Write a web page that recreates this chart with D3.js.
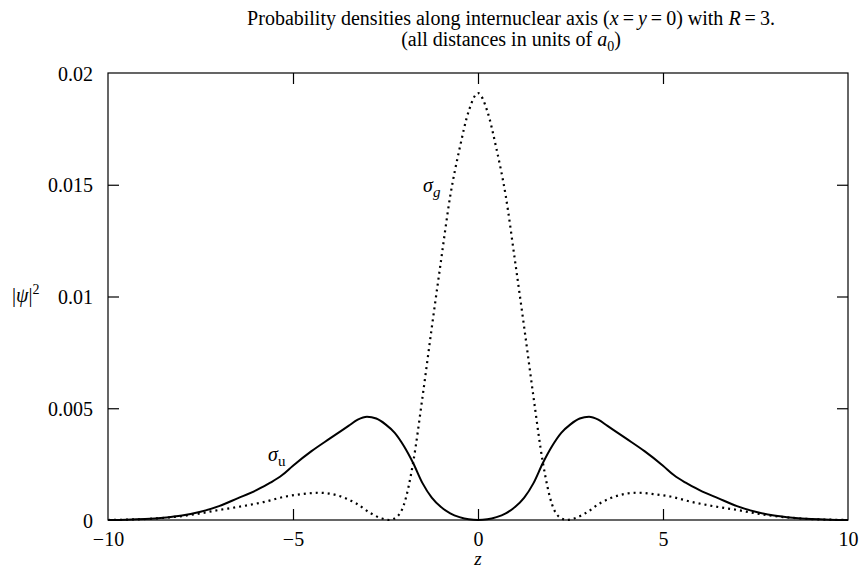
<!DOCTYPE html>
<html>
<head>
<meta charset="utf-8">
<script src="https://cdn.jsdelivr.net/npm/d3@7"></script>
<style>
  body { margin: 0; background: #fff; }
  svg { display: block; }
  svg text { font-family: "Liberation Serif", Tinos, "Times New Roman", Times, "DejaVu Serif", serif !important; fill: #000; }
</style>
</head>
<body>
<svg id="chart" width="861" height="569"></svg>
<script>
// ---- data (curves are symmetric about z = 0) ----
const zHalf      = [0, 0.25, 0.5, 0.75, 1.0, 1.25, 1.5, 1.75, 2.0, 2.25, 2.5, 2.75, 3.0, 3.25, 3.5, 4.0, 4.5, 5.0, 5.3, 5.6, 6.0, 6.5, 7.0, 7.5, 8.0, 8.5, 9.0, 9.5, 10];
const sigmaUHalf = [0, 0.00003, 0.00013, 0.0003, 0.00058, 0.001, 0.00165, 0.00254, 0.0033, 0.0039, 0.00428, 0.00454, 0.00462, 0.00449, 0.00421, 0.00365, 0.00308, 0.00243, 0.002, 0.00168, 0.00133, 0.00097, 0.00062, 0.00037, 0.0002, 0.0001, 0.00004, 0.00001, 0];

const zGHalf     = [0, 0.25, 0.5, 0.75, 1.0, 1.25, 1.5, 1.75, 2.0, 2.2, 2.4, 2.6, 2.9, 3.3, 3.8, 4.3, 4.8, 5.2, 5.8, 6.5, 7.0, 7.6, 8.2, 8.8, 9.4, 10];
const sigmaGHalf = [0.0191, 0.0183, 0.0166, 0.0145, 0.0116, 0.0086, 0.0055, 0.0026, 0.0007, 0.00013, 0, 0.00007, 0.0003, 0.00075, 0.0011, 0.00122, 0.00115, 0.00105, 0.0008, 0.00058, 0.00045, 0.00027, 0.00014, 0.00006, 0.00002, 0];

const xTicks = [-10, -5, 0, 5, 10];
const yTicks = [0, 0.005, 0.01, 0.015, 0.02];

// build full symmetric series
function mirror(zs, vs) {
  const pts = [];
  for (let i = zs.length - 1; i > 0; i--) pts.push([-zs[i], vs[i]]);
  for (let i = 0; i < zs.length; i++) pts.push([zs[i], vs[i]]);
  return pts;
}
const sigmaU = mirror(zHalf, sigmaUHalf);
const sigmaG = mirror(zGHalf, sigmaGHalf);

// ---- layout ----
const FONT = '"Liberation Serif", Tinos, "Times New Roman", Times, serif';
const svg = d3.select("#chart");
const L = 108, R = 848, T = 73, B = 520;
const x = d3.scaleLinear().domain([-10, 10]).range([L, R]);
const y = d3.scaleLinear().domain([0, 0.02]).range([B, T]);
const fs = 20;
const tickLen = 11;
const fmtX = d => d < 0 ? "\u2212" + Math.abs(d) : String(d);
const fmtY = d => d === 0 ? "0" : String(+d.toFixed(3));

// frame
svg.append("rect").attr("x", L).attr("y", T).attr("width", R - L).attr("height", B - T)
  .attr("fill", "none").attr("stroke", "#000").attr("stroke-width", 1.2);

// axes with inward ticks
const axB = svg.append("g").attr("transform", `translate(0,${B})`)
  .call(d3.axisBottom(x).tickValues(xTicks).tickSizeInner(-tickLen).tickSizeOuter(0).tickPadding(12).tickFormat(fmtX));
const axT = svg.append("g").attr("transform", `translate(0,${T})`)
  .call(d3.axisTop(x).tickValues(xTicks).tickSizeInner(-tickLen).tickSizeOuter(0).tickFormat(""));
const axL = svg.append("g").attr("transform", `translate(${L},0)`)
  .call(d3.axisLeft(y).tickValues(yTicks).tickSizeInner(-tickLen).tickSizeOuter(0).tickPadding(15).tickFormat(fmtY));
const axR = svg.append("g").attr("transform", `translate(${R},0)`)
  .call(d3.axisRight(y).tickValues(yTicks).tickSizeInner(-tickLen).tickSizeOuter(0).tickFormat(""));
[axB, axT, axL, axR].forEach(g => {
  g.attr("font-family", FONT).attr("font-size", fs);
  g.select(".domain").remove();
  g.selectAll("line").attr("stroke", "#000").attr("stroke-width", 1.2);
  g.selectAll("text").style("font-size", fs + "px").attr("fill", "#000");
});
// hide tick marks at frame edges (frame draws them)
axB.selectAll(".tick").filter(d => d === -10 || d === 10).select("line").remove();
axT.selectAll(".tick").filter(d => d === -10 || d === 10).select("line").remove();
axL.selectAll(".tick").filter(d => d === 0 || d === 0.02).select("line").remove();
axR.selectAll(".tick").filter(d => d === 0 || d === 0.02).select("line").remove();
axL.selectAll("text").attr("dy", "0.35em");

// curves
const line = d3.line().x(d => x(d[0])).y(d => y(d[1])).curve(d3.curveMonotoneX);
svg.append("path").datum(sigmaU).attr("d", line)
  .attr("fill", "none").attr("stroke", "#000").attr("stroke-width", 2);
svg.append("path").datum(sigmaG).attr("d", line)
  .attr("fill", "none").attr("stroke", "#000").attr("stroke-width", 2.2)
  .attr("stroke-dasharray", "2 4");

// curve labels
const lu = svg.append("text").attr("x", 268).attr("y", 461).style("font-size", fs + "px");
lu.append("tspan").attr("font-style", "italic").text("\u03c3");
lu.append("tspan").attr("dy", 5).style("font-size", "15px").text("u");
const lg = svg.append("text").attr("x", 423).attr("y", 192).style("font-size", fs + "px");
lg.append("tspan").attr("font-style", "italic").text("\u03c3");
lg.append("tspan").attr("dy", 5).attr("font-style", "italic").style("font-size", "15px").text("g");

// axis titles
svg.append("text").attr("x", x(0)).attr("y", 565).attr("text-anchor", "middle")
  .attr("font-style", "italic").style("font-size", "19px").text("z");
const yl = svg.append("text").attr("x", 12).attr("y", 302).style("font-size", fs + "px");
yl.append("tspan").text("|");
yl.append("tspan").attr("font-style", "italic").text("\u03c8");
yl.append("tspan").text("|");
yl.append("tspan").attr("dy", -8).style("font-size", "14px").text("2");

// title
const t1 = svg.append("text").attr("x", 511).attr("y", 25).attr("text-anchor", "middle").style("font-size", fs + "px");
t1.append("tspan").text("Probability densities along internuclear axis (");
t1.append("tspan").attr("font-style", "italic").text("x");
t1.append("tspan").text("\u2009=\u2009");
t1.append("tspan").attr("font-style", "italic").text("y");
t1.append("tspan").text("\u2009=\u20090) with ");
t1.append("tspan").attr("font-style", "italic").text("R");
t1.append("tspan").text("\u2009=\u20093.");
const t2 = svg.append("text").attr("x", 511).attr("y", 46).attr("text-anchor", "middle").style("font-size", fs + "px");
t2.append("tspan").text("(all distances in units of ");
t2.append("tspan").attr("font-style", "italic").text("a");
t2.append("tspan").attr("dy", 5).style("font-size", "14px").text("0");
t2.append("tspan").attr("dy", -5).text(")");
</script>
</body>
</html>
